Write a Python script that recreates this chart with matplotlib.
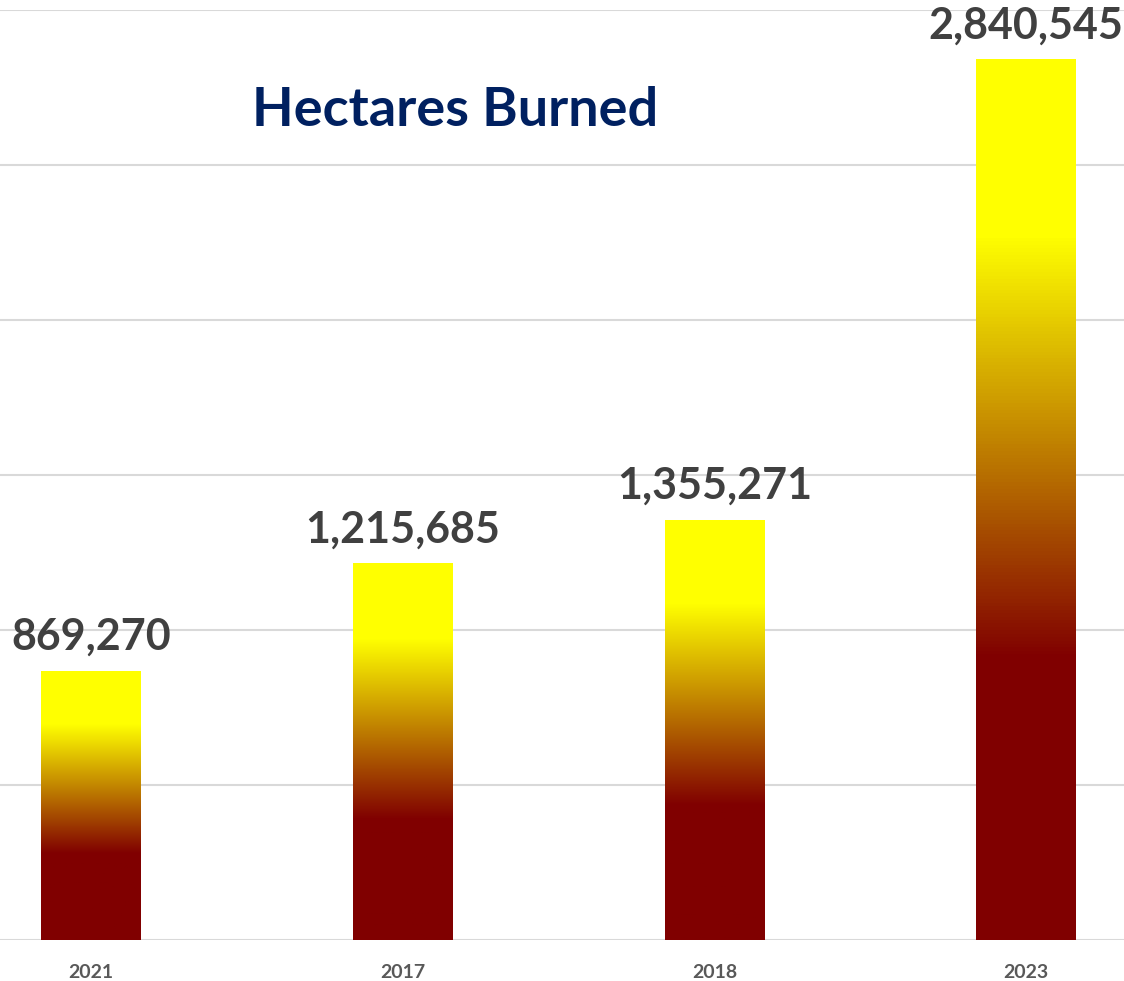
import matplotlib
matplotlib.use("Agg")
import matplotlib.pyplot as plt
import numpy as np
from matplotlib.colors import LinearSegmentedColormap

years = ["2021", "2017", "2018", "2023"]
hectares = [869270, 1215685, 1355271, 2840545]
title_text = "Hectares Burned"

W, H = 1124, 981
fig = plt.figure(figsize=(W / 100, H / 100), dpi=100)
ax = fig.add_axes([0, (H - 940) / H, 1, (940 - 10) / H])

ax.set_xlim(-0.292, 3.314)
ax.set_ylim(0, 3000000)
ax.set_yticks(np.arange(0, 3000001, 500000))
ax.yaxis.grid(True, color="#D9D9D9", linewidth=1.5)
ax.set_axisbelow(True)
for s in ax.spines.values():
    s.set_visible(False)
ax.tick_params(axis="y", left=False, labelleft=False)
ax.tick_params(axis="x", bottom=False, pad=14)

cmap = LinearSegmentedColormap.from_list(
    "fire", [(0.0, "#800000"), (0.32, "#800000"), (0.80, "#FFFF00"), (1.0, "#FFFF00")])
grad = np.linspace(0, 1, 256).reshape(-1, 1)

x = np.arange(len(years))
bars = ax.bar(x, hectares, width=0.32, color="none", edgecolor="none", zorder=2)
for b in bars:
    x0, y0 = b.get_x(), b.get_y()
    w, h = b.get_width(), b.get_height()
    im = ax.imshow(grad, cmap=cmap, origin="lower", aspect="auto",
                   extent=[x0, x0 + w, y0, y0 + h], zorder=2)
    im.set_clip_path(b)

ax.set_xticks(x)
ax.set_xticklabels(years, fontfamily="Lato", fontweight="bold", fontsize=14, color="#595959")

for xi, v in zip(x, hectares):
    ax.annotate(f"{v:,}", (xi, v), xytext=(0, 10), textcoords="offset points",
                ha="center", va="bottom", fontfamily="Lato", fontweight="bold",
                fontsize=31, color="#404040", zorder=3)

fig.text(455 / W, 1 - 111 / H, title_text, ha="center", va="center",
         fontfamily="Lato", fontweight="bold", fontsize=39, color="#002060")

fig.savefig("out.png", dpi=100)
